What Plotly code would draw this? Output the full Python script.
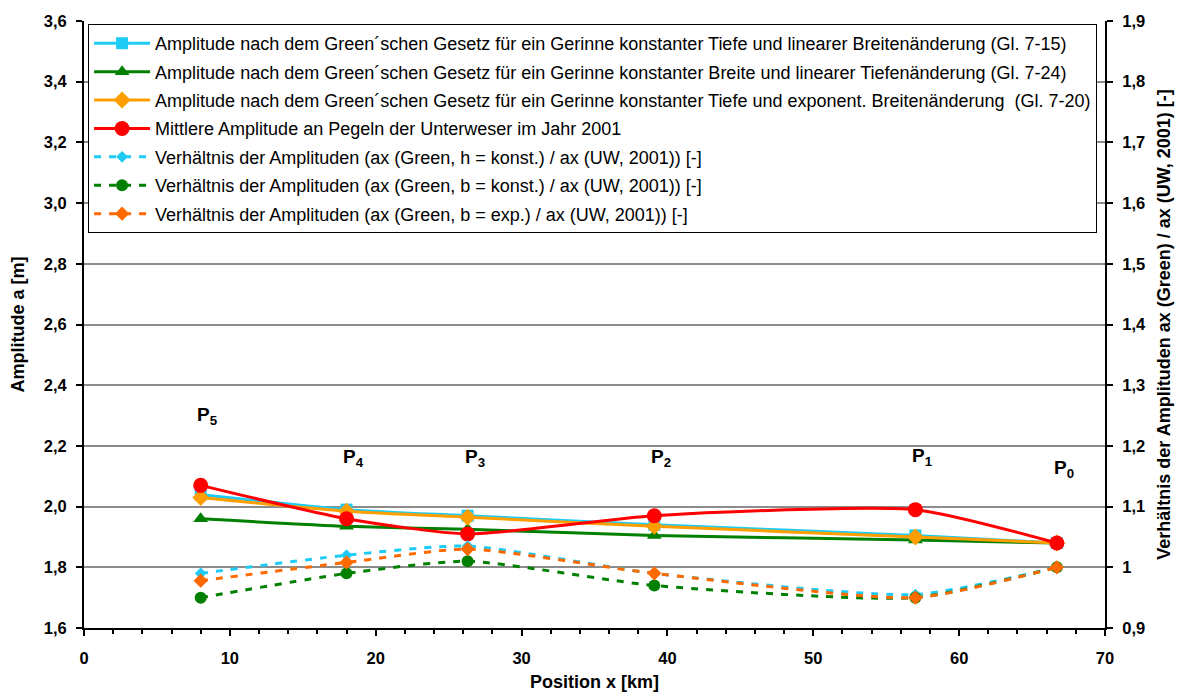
import plotly.graph_objects as go

# Pegel positions along the Unterweser [km]
position_km = [8.0, 18.0, 26.3, 39.1, 57.0, 66.7]
pegel_labels = ["P<sub>5</sub>", "P<sub>4</sub>", "P<sub>3</sub>", "P<sub>2</sub>", "P<sub>1</sub>", "P<sub>0</sub>"]
pegel_label_height = [2.30, 2.16, 2.16, 2.16, 2.165, 2.125]

# Amplitudes [m]
amp_green_h_const = [2.04, 1.99, 1.97, 1.94, 1.905, 1.88]
amp_green_b_const = [1.96, 1.935, 1.925, 1.905, 1.89, 1.88]
amp_green_b_exp = [2.03, 1.985, 1.965, 1.935, 1.90, 1.88]
amp_uw_2001 = [2.07, 1.96, 1.91, 1.97, 1.99, 1.88]

# Ratios ax(Green) / ax(UW, 2001) [-]
ratio_h_const = [0.99, 1.02, 1.035, 0.99, 0.955, 1.0]
ratio_b_const = [0.95, 0.99, 1.01, 0.97, 0.95, 1.0]
ratio_b_exp = [0.978, 1.008, 1.03, 0.99, 0.95, 1.0]

left_ticks = [1.6, 1.8, 2.0, 2.2, 2.4, 2.6, 2.8, 3.0, 3.2, 3.4, 3.6]
right_ticks = [0.9, 1.0, 1.1, 1.2, 1.3, 1.4, 1.5, 1.6, 1.7, 1.8, 1.9]
right_tick_text = ["0,9", "1", "1,1", "1,2", "1,3", "1,4", "1,5", "1,6", "1,7", "1,8", "1,9"]

names = [
    "Amplitude nach dem Green´schen Gesetz für ein Gerinne konstanter Tiefe und linearer Breitenänderung (Gl. 7-15)",
    "Amplitude nach dem Green´schen Gesetz für ein Gerinne konstanter Breite und linearer Tiefenänderung (Gl. 7-24)",
    "Amplitude nach dem Green´schen Gesetz für ein Gerinne konstanter Tiefe und exponent. Breitenänderung  (Gl. 7-20)",
    "Mittlere Amplitude an Pegeln der Unterweser im Jahr 2001",
    "Verhältnis der Amplituden (ax (Green, h = konst.) / ax (UW, 2001)) [-]",
    "Verhältnis der Amplituden (ax (Green, b = konst.) / ax (UW, 2001)) [-]",
    "Verhältnis der Amplituden (ax (Green, b = exp.) / ax (UW, 2001)) [-]",
]

CYAN = "#1ECBF5"
GREEN = "#008000"
ORANGE = "#FF9E00"
RED = "#FF0000"
ORANGE_DARK = "#FF6A00"
DASH = "7px,8px"
FONT = "Liberation Sans, Arial, Helvetica"

fig = go.Figure()

amp_series = [
    (amp_green_h_const, CYAN, "square", 12),
    (amp_green_b_const, GREEN, "triangle-up", 13),
    (amp_green_b_exp, ORANGE, "diamond", 13),
    (amp_uw_2001, RED, "circle", 15),
]
for i, (vals, col, sym, size) in enumerate(amp_series):
    fig.add_trace(go.Scatter(
        x=position_km, y=vals, name=names[i], legendgroup=f"g{i}",
        mode="lines+markers", line=dict(color=col, width=3, shape="spline", smoothing=0.6),
        marker=dict(color=col, symbol=sym, size=size), yaxis="y",
    ))

ratio_series = [
    (ratio_h_const, CYAN, "diamond", 9),
    (ratio_b_const, GREEN, "circle", 12),
    (ratio_b_exp, ORANGE_DARK, "diamond", 11),
]
for j, (vals, col, sym, size) in enumerate(ratio_series):
    i = j + 4
    fig.add_trace(go.Scatter(
        x=position_km, y=vals, name=names[i], legendgroup=f"g{i}",
        mode="lines+markers", line=dict(color=col, width=3, dash=DASH, shape="spline", smoothing=0.6),
        marker=dict(color=col, symbol=sym, size=size), yaxis="y2",
    ))

for xp, lab, yp in zip(position_km, pegel_labels, pegel_label_height):
    fig.add_annotation(x=xp, y=yp, xref="x", yref="y", text=f"<b>{lab}</b>",
                       showarrow=False, xanchor="center", xshift=7,
                       font=dict(family=FONT, size=19, color="black"))

tick_font = dict(family=FONT, size=16.5, color="black", weight="bold")
title_font = dict(family=FONT, size=18, color="black")

fig.update_layout(
    width=1183, height=697,
    margin=dict(l=84, r=76, t=16, b=69),
    paper_bgcolor="white", plot_bgcolor="white",
    separators=",.",
    font=dict(family=FONT, size=14, color="black"),
    showlegend=True,
    legend=dict(
        x=0.004, y=0.995, xanchor="left", yanchor="top",
        bgcolor="white", bordercolor="black", borderwidth=1,
        font=dict(family=FONT, size=18, color="black"),
        traceorder="grouped", tracegroupgap=2,
        itemwidth=56,
    ),
    xaxis=dict(
        range=[0, 70], dtick=10, tick0=0,
        showgrid=False, zeroline=False, automargin=False,
        showline=True, linecolor="black", linewidth=2, mirror=False,
        ticks="outside", ticklen=6, tickcolor="black", tickwidth=1.5,
        minor=dict(dtick=2, ticks="outside", ticklen=4, tickcolor="black", tickwidth=1.5),
        ticklabelstandoff=8,
        tickfont=tick_font,
        title=dict(text="<b>Position x [km]</b>", font=title_font, standoff=10),
    ),
    yaxis=dict(
        range=[1.6, 3.6], tickvals=left_ticks, tickformat=".1f",
        showgrid=True, gridcolor="#8C8C8C", gridwidth=1.5, zeroline=False,
        showline=True, linecolor="black", linewidth=2,
        ticks="outside", ticklen=6, tickcolor="black", tickwidth=1.5,
        ticklabelstandoff=6,
        tickfont=tick_font,
        title=dict(text="<b>Amplitude a [m]</b>", font=title_font, standoff=14),
    ),
    yaxis2=dict(
        range=[0.9, 1.9], tickvals=right_ticks, ticktext=right_tick_text,
        overlaying="y", side="right",
        showgrid=False, zeroline=False,
        showline=True, linecolor="black", linewidth=2,
        ticks="outside", ticklen=6, tickcolor="black", tickwidth=1.5,
        ticklabelstandoff=6,
        tickfont=tick_font,
        title=dict(text="<b>Verhältnis der Amplituden ax (Green) / ax (UW, 2001) [-]</b>",
                   font=title_font, standoff=12),
    ),
)

fig.write_html("out.html")
